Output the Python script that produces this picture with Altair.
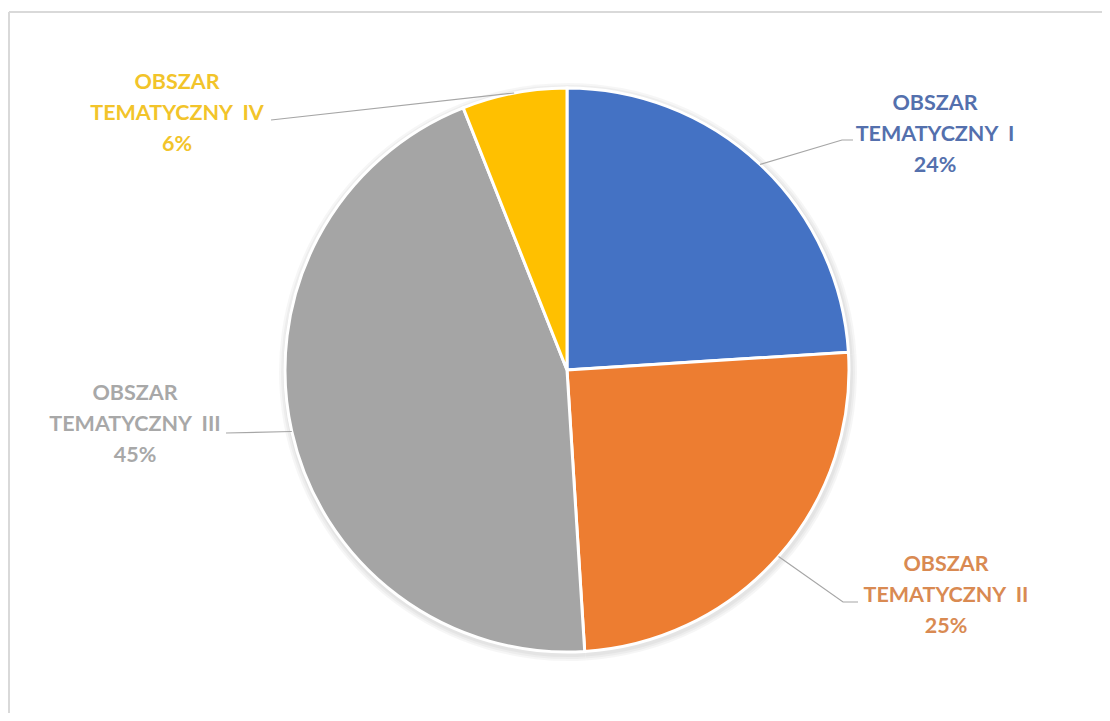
import math
import altair as alt
import pandas as pd

# ---- data ----
categories = ["OBSZAR TEMATYCZNY I", "OBSZAR TEMATYCZNY II", "OBSZAR TEMATYCZNY III", "OBSZAR TEMATYCZNY IV"]
values = [24, 25, 45, 6]

# ---- styles / layout ----
slice_colors = ["#4472C4", "#ED7D31", "#A5A5A5", "#FFC000"]
text_colors = ["#5470ad", "#d98a52", "#a8a8a8", "#f2c42a"]
OFF = 8  # page margin
CX, CY, R = 567 - OFF, 370 - OFF, 282
LINE_H = 31
# label block centres and leader-line anchors (page pixels)
label_pos = [(935, 135), (946, 596), (135, 425), (177, 114)]
leader_elbow = [(842, 140), (843, 602), (226, 433), (271, 120)]
leader_end = [(853, 140), (858, 602), (226, 433), (271, 120)]

df = pd.DataFrame({"category": categories, "value": values, "idx": range(len(values))})

total = sum(values)
rows_lbl, rows_line = [], []
cum = 0
for i, (c, v) in enumerate(zip(categories, values)):
    mid = (cum + v / 2) / total * 2 * math.pi
    cum += v
    ex, ey = CX + R * math.sin(mid), CY - R * math.cos(mid)
    head, name = c.split(" ", 1)
    word, roman = name.split(" ")
    txt = f"{head}\n{word}\u00a0 {roman}\n{v}%"
    rows_lbl.append({"category": c, "label": txt,
                     "x": label_pos[i][0] - OFF, "y": label_pos[i][1] - OFF - LINE_H})
    pts = [(ex, ey), (leader_elbow[i][0] - OFF, leader_elbow[i][1] - OFF),
           (leader_end[i][0] - OFF, leader_end[i][1] - OFF)]
    for k, (px, py) in enumerate(pts):
        rows_line.append({"category": c, "k": k, "x": px, "y": py})

lbl_df = pd.DataFrame(rows_lbl)
line_df = pd.DataFrame(rows_line)

color_scale = alt.Scale(domain=categories, range=slice_colors)
text_scale = alt.Scale(domain=categories, range=text_colors)

base = alt.Chart(df)

shadow = alt.layer(*[
    base.mark_arc(radius=R + d, color="#000000", opacity=0.035).encode(
        theta=alt.Theta("value:Q", stack=True),
        order=alt.Order("idx:Q"),
        x=alt.value(CX + 1), y=alt.value(CY + 2),
    ) for d in (3, 5, 7)
])

pie = base.mark_arc(radius=R, stroke="white", strokeWidth=3).encode(
    theta=alt.Theta("value:Q", stack=True),
    color=alt.Color("category:N", scale=color_scale, legend=None),
    order=alt.Order("idx:Q"),
    x=alt.value(CX), y=alt.value(CY),
)

leaders = alt.Chart(line_df).mark_line(color="#a6a6a6", strokeWidth=1.2).encode(
    x=alt.X("x:Q", scale=None), y=alt.Y("y:Q", scale=None),
    detail="category:N", order="k:Q",
)

labels = alt.Chart(lbl_df).mark_text(
    font="Lato", fontSize=21.5, fontWeight="bold", lineBreak="\n", lineHeight=LINE_H,
    align="center", baseline="middle",
).encode(
    x=alt.X("x:Q", scale=None), y=alt.Y("y:Q", scale=None),
    text="label:N",
    color=alt.Color("category:N", scale=text_scale, legend=None),
)

border_top = alt.Chart(df).mark_rule(color="#d9d9d9", strokeWidth=1.5).encode(
    x=alt.value(1), x2=alt.value(1094), y=alt.value(4))
border_left = alt.Chart(df).mark_rule(color="#d9d9d9", strokeWidth=1.5).encode(
    x=alt.value(1), y=alt.value(4), y2=alt.value(705))

chart = alt.layer(border_top, border_left, shadow, pie, leaders, labels).properties(
    width=1094, height=705, padding=0, autosize="none", background="white"
).configure_view(stroke=None).resolve_scale(color="independent")

chart.save("out.html", embed_options={"renderer": "svg", "actions": False})
